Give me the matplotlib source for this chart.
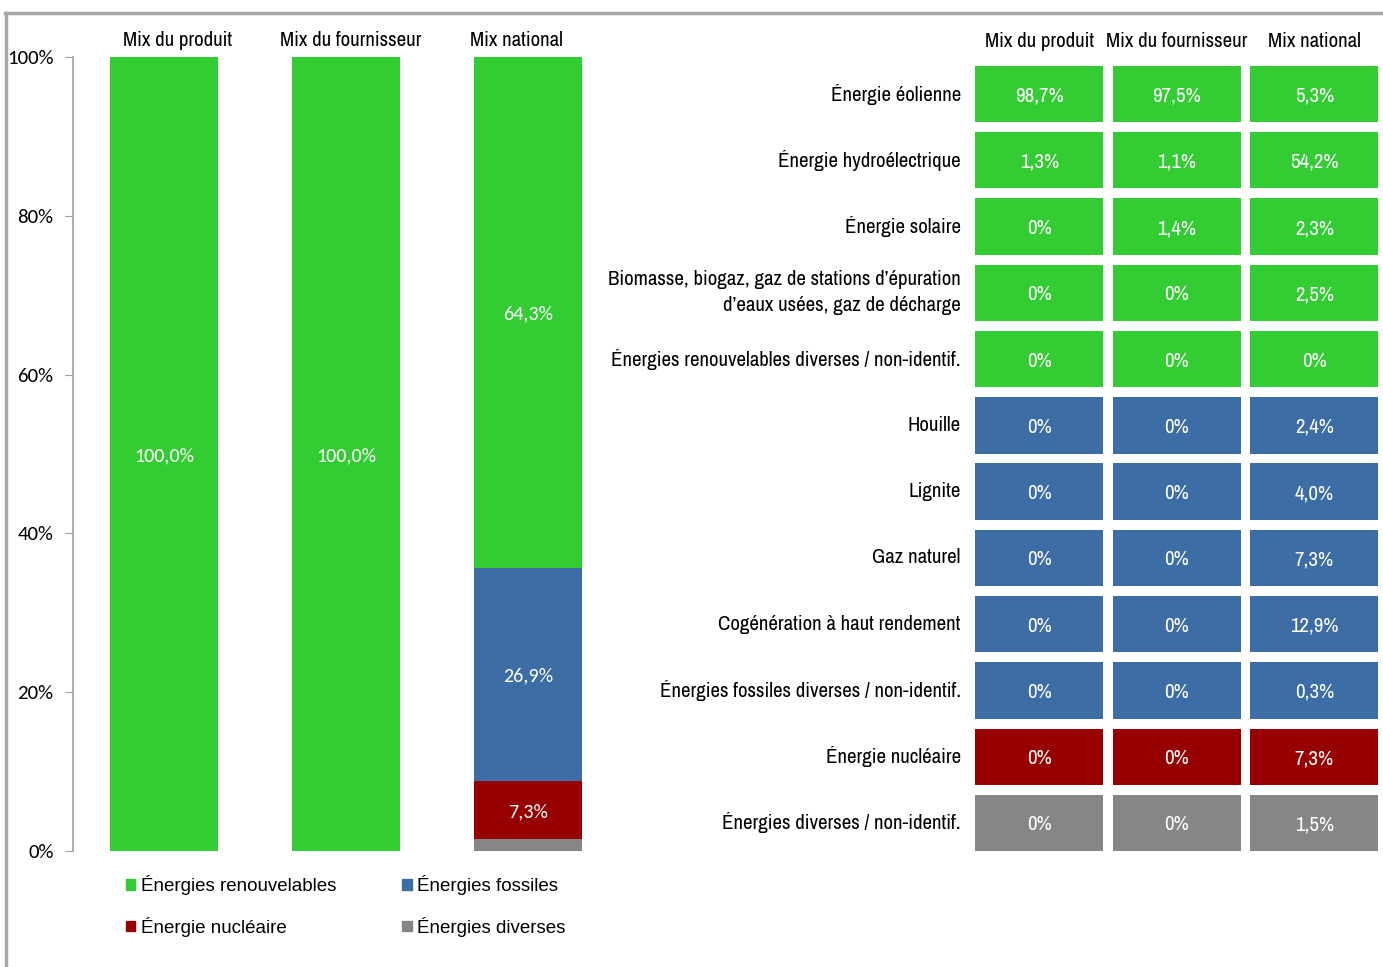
import matplotlib
matplotlib.use("Agg")
import matplotlib.pyplot as plt
from matplotlib.lines import Line2D
from matplotlib.patches import Patch

# ---------------- data ----------------
mixes = ["Mix du produit", "Mix du fournisseur", "Mix national"]
sources = [
    "Énergie éolienne",
    "Énergie hydroélectrique",
    "Énergie solaire",
    "Biomasse, biogaz, gaz de stations d’épuration\nd’eaux usées, gaz de décharge",
    "Énergies renouvelables diverses / non-identif.",
    "Houille",
    "Lignite",
    "Gaz naturel",
    "Cogénération à haut rendement",
    "Énergies fossiles diverses / non-identif.",
    "Énergie nucléaire",
    "Énergies diverses / non-identif.",
]
source_group = [0, 0, 0, 0, 0, 1, 1, 1, 1, 1, 2, 3]
mix_produit = [98.7, 1.3, 0, 0, 0, 0, 0, 0, 0, 0, 0, 0]
mix_fournisseur = [97.5, 1.1, 1.4, 0, 0, 0, 0, 0, 0, 0, 0, 0]
mix_national = [5.3, 54.2, 2.3, 2.5, 0, 2.4, 4.0, 7.3, 12.9, 0.3, 7.3, 1.5]
groups = ["Énergies renouvelables", "Énergies fossiles", "Énergie nucléaire", "Énergies diverses"]
group_colors = ["#33CC33", "#3D6DA5", "#960000", "#868686"]
yticks = [0, 20, 40, 60, 80, 100]

# ---------------- fonts ----------------
NARROW = ["Liberation Sans Narrow", "Archivo Narrow", "DejaVu Sans"]
ARIAL = ["Liberation Sans", "DejaVu Sans"]
CALIBRI = ["Carlito", "DejaVu Sans"]

W, H = 1383, 967
fig = plt.figure(figsize=(W / 100, H / 100), dpi=100)
fig.patch.set_facecolor("white")

def fx(px):
    return px / W

def fy(py):
    return 1 - py / H

# frame lines (top and left)
fig.add_artist(Line2D([fx(5), fx(W)], [fy(13), fy(13)], color="#A6A6A6", lw=2.5))
fig.add_artist(Line2D([fx(6), fx(6)], [fy(13), fy(H)], color="#A6A6A6", lw=2.5))

# ---------------- left stacked chart ----------------
mix_data = [mix_produit, mix_fournisseur, mix_national]
totals = []
for m in mix_data:
    t = [0.0] * len(groups)
    for v, g in zip(m, source_group):
        t[g] += v
    totals.append([round(x, 1) for x in t])

ax = fig.add_axes([fx(73), fy(851), fx(619) - fx(73), fy(57) - fy(851)])
xpos = list(range(len(mixes)))
bottoms = [0.0] * len(mixes)
# stacking order from bottom: diverses, nucléaire, fossiles, renouvelables
for g in [3, 2, 1, 0]:
    vals = [totals[i][g] for i in range(len(mixes))]
    ax.bar(xpos, vals, width=0.588, bottom=bottoms, color=group_colors[g],
           label=groups[g], linewidth=0)
    for i, (v, b) in enumerate(zip(vals, bottoms)):
        if v >= 5:
            ax.text(xpos[i], b + v / 2, f"{v:.1f}%".replace(".", ","), ha="center",
                    va="center_baseline", color="white", fontsize=14.5, family=CALIBRI)
    bottoms = [b + v for b, v in zip(bottoms, vals)]

ax.set_xlim(-0.5, 2.5)
ax.set_ylim(0, 100)
ax.set_yticks(yticks)
ax.set_yticklabels([f"{t}%" for t in yticks], family=CALIBRI, fontsize=15)
ax.tick_params(axis="y", length=6, color="#A0A0A0", pad=8, direction="out")
ax.set_xticks([])
for s in ["top", "right", "bottom"]:
    ax.spines[s].set_visible(False)
ax.spines["left"].set_color("#A0A0A0")
ax.spines["left"].set_linewidth(1.2)

# headers above left chart
header_px = [177.5, 350.5, 516]
for name, px in zip(mixes, header_px):
    fig.text(fx(px), fy(41), name, ha="center", va="center", fontsize=15, family=NARROW)

# legend
leg_handles = [Patch(color=group_colors[g]) for g in [0, 2, 1, 3]]
leg_labels = [groups[g] for g in [0, 2, 1, 3]]
fig.legend(leg_handles, leg_labels, loc="upper left",
           bbox_to_anchor=(fx(126), fy(875)), ncol=2, frameon=False,
           prop={"family": ARIAL, "size": 13.5}, handlelength=0.5, handleheight=0.5,
           handletextpad=0.3, columnspacing=3.52, labelspacing=1.15, borderpad=0,
           borderaxespad=0)

# ---------------- right table ----------------
ax2 = fig.add_axes([fx(970.5), fy(856.1), 1 - fx(970.5), fy(60.9) - fy(856.1)])
rows = list(range(len(sources)))
row_colors = [group_colors[g] for g in source_group]
for j, m in enumerate(mix_data):
    ax2.barh([r + 0.5 for r in rows], [0.931] * len(rows), left=j + 0.5 - 0.931 / 2,
             height=0.85, color=row_colors, linewidth=0)
    for r, v in zip(rows, m):
        txt = "0%" if v == 0 else f"{v:.1f}%".replace(".", ",")
        ax2.text(j + 0.5, r + 0.5, txt, ha="center", va="center_baseline", color="white",
                 fontsize=15, family=NARROW)

ax2.set_xlim(0, 3)
ax2.set_ylim(len(sources), 0)
ax2.set_yticks([r + 0.5 for r in rows])
ax2.set_yticklabels(sources, family=NARROW, fontsize=15)
for lbl in ax2.get_yticklabels():
    lbl.set_verticalalignment("center")
    lbl.set_linespacing(1.45)
ax2.tick_params(axis="y", length=0, pad=7)
ax2.xaxis.tick_top()
ax2.set_xticks([j + 0.5 for j in range(3)])
ax2.set_xticklabels(mixes, family=NARROW, fontsize=15)
ax2.tick_params(axis="x", length=0, pad=7)
for s in ax2.spines.values():
    s.set_visible(False)
ax2.set_facecolor("none")

fig.savefig("out.png", dpi=100, facecolor="white")
